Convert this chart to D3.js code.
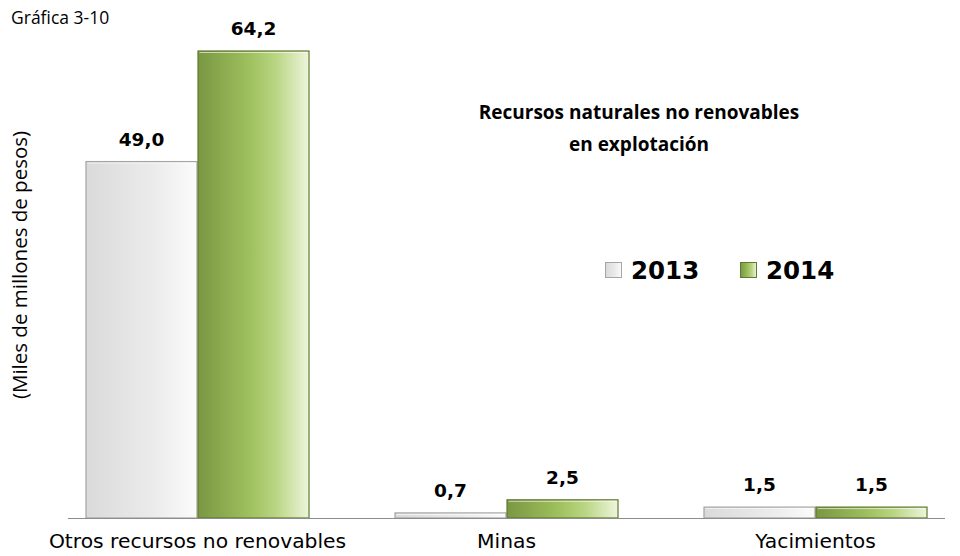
<!DOCTYPE html>
<html>
<head>
    <meta charset="utf-8">
    <script src="https://d3js.org/d3.v7.min.js"></script>
    <style>
        body { margin: 0; background: #fff; }
    </style>
</head>
<body>
    <div id="viz"></div>

    <script type="text/javascript">

    // data
    var categories = ["Otros recursos no renovables", "Minas", "Yacimientos"];
    var years = ["2013", "2014"];
    var values2013 = [49.0, 0.7, 1.5];
    var values2014 = [64.2, 2.5, 1.5];
    var labels2013 = ["49,0", "0,7", "1,5"];
    var labels2014 = ["64,2", "2,5", "1,5"];

    var width = 960, height = 556;
    var baseY = 518;

    var svg = d3.select("#viz")
        .append("svg")
        .attr("width", width)
        .attr("height", height);

    var defs = svg.append("defs");

    // horizontal gradients like the excel bars
    var g13 = defs.append("linearGradient").attr("id", "g13")
        .attr("x1", "0").attr("x2", "1").attr("y1", "0").attr("y2", "0");
    g13.append("stop").attr("offset", "0").attr("stop-color", "#dadada");
    g13.append("stop").attr("offset", "0.6").attr("stop-color", "#ebebeb");
    g13.append("stop").attr("offset", "1").attr("stop-color", "#fbfbfb");

    var g14 = defs.append("linearGradient").attr("id", "g14")
        .attr("x1", "0").attr("x2", "1").attr("y1", "0").attr("y2", "0");
    g14.append("stop").attr("offset", "0").attr("stop-color", "#7a9743");
    g14.append("stop").attr("offset", "0.45").attr("stop-color", "#9dbf5c");
    g14.append("stop").attr("offset", "0.7").attr("stop-color", "#b9d583");
    g14.append("stop").attr("offset", "1").attr("stop-color", "#eef5dc");

    var x = d3.scaleBand()
        .domain(categories)
        .range([43, 970])
        .paddingInner(0.275)
        .paddingOuter(0.1375);

    var xs = d3.scaleBand()
        .domain(years)
        .range([0, x.bandwidth()]);

    var y = d3.scaleLinear()
        .domain([0, 64.2])
        .range([baseY, 51]);

    var series = [
        {year: "2013", values: values2013, labels: labels2013, fill: "url(#g13)", stroke: "#a5a5a5"},
        {year: "2014", values: values2014, labels: labels2014, fill: "url(#g14)", stroke: "#5f7a30"}
    ];

    // bars
    series.forEach(function(s){
        var grp = svg.append("g");
        categories.forEach(function(c, i){
            var x0 = x(c) + xs(s.year);
            var top = y(s.values[i]);
            grp.append("rect")
                .attr("x", x0 + 0.5)
                .attr("y", top)
                .attr("width", xs.bandwidth() - 1)
                .attr("height", baseY - top)
                .style("fill", s.fill)
                .style("stroke", s.stroke)
                .style("stroke-width", 1.2);
            // soft top highlight
            grp.append("line")
                .attr("x1", x0 + 2).attr("x2", x0 + xs.bandwidth() - 2)
                .attr("y1", top + 1.5).attr("y2", top + 1.5)
                .style("stroke", "#ffffff").style("stroke-opacity", 0.6);
            grp.append("text")
                .attr("x", x0 + xs.bandwidth() / 2)
                .attr("y", top - 16)
                .attr("text-anchor", "middle")
                .style("font-family", "'DejaVu Sans', Verdana, sans-serif")
                .style("font-weight", "bold")
                .style("font-size", "18.5px")
                .text(s.labels[i]);
        });
    });

    // axis baseline
    svg.append("line")
        .attr("x1", 68).attr("x2", 945)
        .attr("y1", baseY + 0.5).attr("y2", baseY + 0.5)
        .style("stroke", "#8c8c8c").style("stroke-width", 1);

    var xAxis = d3.axisBottom(x).tickSize(0).tickPadding(16);
    var ax = svg.append("g")
        .attr("transform", "translate(0," + baseY + ")")
        .call(xAxis);
    ax.select(".domain").remove();
    ax.selectAll("text")
        .style("font-family", "'DejaVu Sans', Verdana, sans-serif")
        .style("font-size", "20.3px")
        .style("fill", "#000");

    // y axis title
    svg.append("text")
        .attr("transform", "translate(27,265) rotate(-90)")
        .attr("text-anchor", "middle")
        .style("font-family", "'Open Sans', sans-serif")
        .style("font-size", "20.5px")
        .text("(Miles de millones de pesos)");

    // figure label
    svg.append("text")
        .attr("x", 11).attr("y", 24)
        .style("font-family", "'Open Sans', sans-serif")
        .style("font-size", "17.5px")
        .text("Gráfica 3-10");

    // chart title
    var title = svg.append("text")
        .attr("text-anchor", "middle")
        .style("font-family", "'Open Sans', sans-serif")
        .style("font-weight", "bold")
        .style("font-size", "19px");
    title.append("tspan").attr("x", 639).attr("y", 119).text("Recursos naturales no renovables");
    title.append("tspan").attr("x", 639).attr("y", 151).text("en explotación");

    // legend
    var legendX = [605, 740];
    series.forEach(function(s, i){
        svg.append("rect")
            .attr("x", legendX[i] + 0.5).attr("y", 262.5)
            .attr("width", 16).attr("height", 15)
            .style("fill", s.fill).style("stroke", s.stroke);
        svg.append("text")
            .attr("x", legendX[i] + 26).attr("y", 279)
            .style("font-family", "'DejaVu Sans', Verdana, sans-serif")
            .style("font-weight", "bold")
            .style("font-size", "24.5px")
            .text(s.year);
    });

    </script>
</body>
</html>
